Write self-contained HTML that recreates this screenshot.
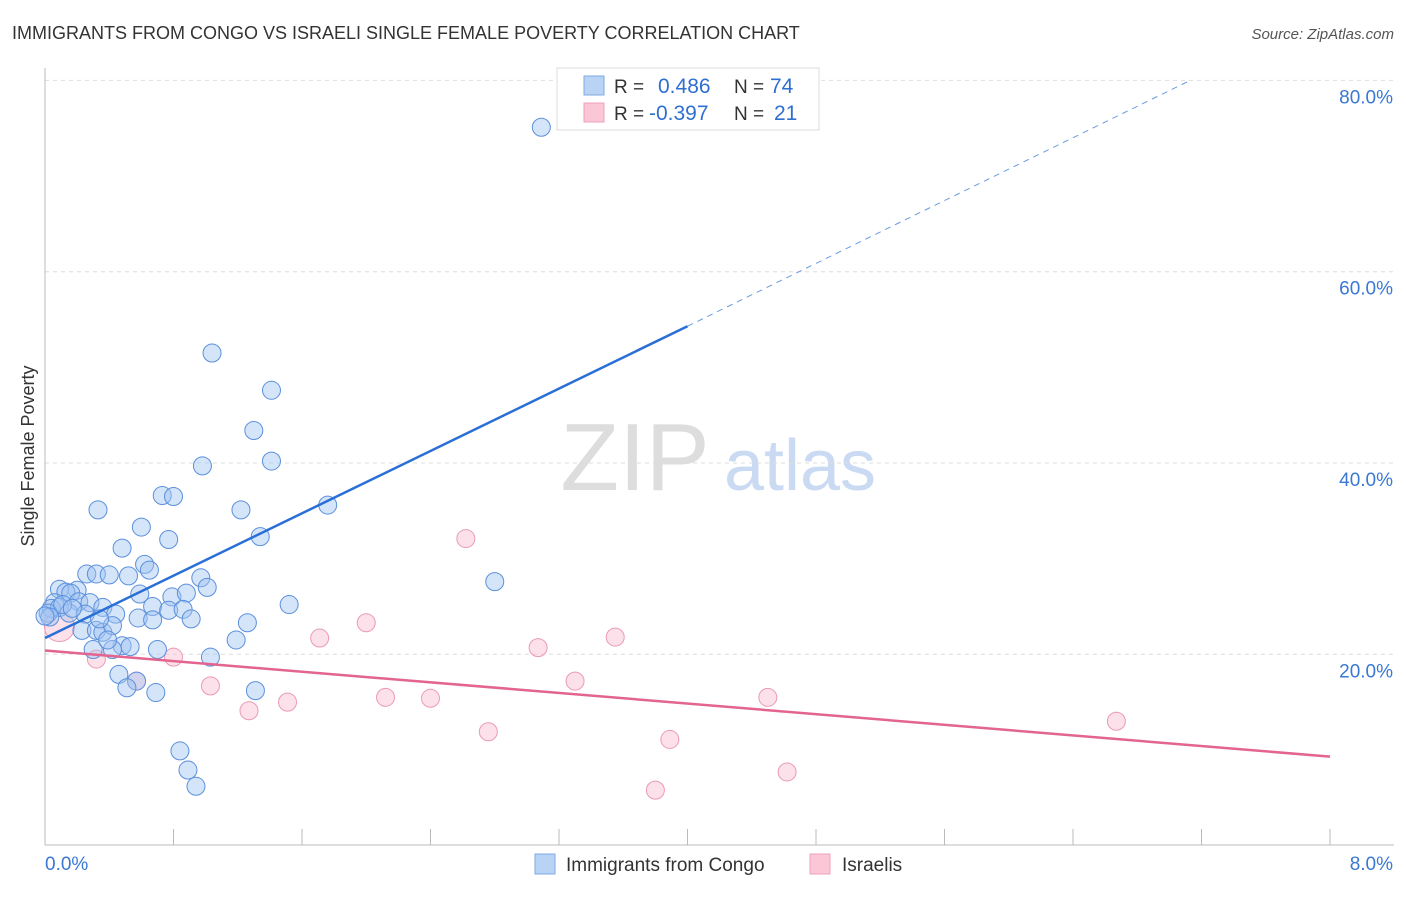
<!DOCTYPE html>
<html><head><meta charset="utf-8"><style>
body{margin:0;background:#fff;font-family:"Liberation Sans",sans-serif}
svg text{font-family:"Liberation Sans",sans-serif}
</style></head><body>
<svg id="chart" width="1406" height="892" xmlns="http://www.w3.org/2000/svg">
<text x="12" y="39" font-size="18" fill="#333">IMMIGRANTS FROM CONGO VS ISRAELI SINGLE FEMALE POVERTY CORRELATION CHART</text>
<text x="1394" y="39" font-size="15" fill="#555" text-anchor="end" font-style="italic">Source: ZipAtlas.com</text>
<text transform="translate(34,456) rotate(-90)" font-size="18" fill="#333" text-anchor="middle">Single Female Poverty</text>
<g>
<text x="635" y="490" font-size="96" fill="#ddd" font-family="Liberation Serif" text-anchor="middle">ZIP</text>
<text x="800" y="490" font-size="72" fill="#c9daf2" text-anchor="middle">atlas</text>
</g>
<g id="grid"></g><g id="axes"></g><g id="pts"></g><g id="lines"></g>
<g>
<rect x="557" y="68" width="262" height="62" fill="#fff" stroke="#ddd"/>
<rect x="584" y="76" width="20" height="19" fill="#b9d3f5" stroke="#7ea8e3"/>
<rect x="584" y="103" width="20" height="19" fill="#fbc6d5" stroke="#eea0b8"/>
<text x="614" y="93" font-size="19" fill="#333">R =</text><text x="658" y="93" font-size="21" fill="#2f6fd0">0.486</text>
<text x="734" y="93" font-size="19" fill="#333">N =</text><text x="770" y="93" font-size="21" fill="#2f6fd0">74</text>
<text x="614" y="120" font-size="19" fill="#333">R =</text><text x="649" y="120" font-size="21" fill="#2f6fd0">-0.397</text>
<text x="734" y="120" font-size="19" fill="#333">N =</text><text x="774" y="120" font-size="21" fill="#2f6fd0">21</text>
</g>
<g>
<rect x="535" y="854" width="20" height="20" fill="#b9d3f5" stroke="#7ea8e3"/>
<text x="566" y="871" font-size="19" fill="#333">Immigrants from Congo</text>
<rect x="810" y="854" width="20" height="20" fill="#fbc6d5" stroke="#eea0b8"/>
<text x="842" y="871" font-size="19" fill="#333">Israelis</text>
</g>
</svg>
<script>
const xTicks=[0,0.8,1.6,2.4,3.2,4.0,4.8,5.6,6.4,7.2,8.0];
const yTicks=[20,40,60,80];
const yTickLabels=["20.0%","40.0%","60.0%","80.0%"];
const xEndLabels=["0.0%","8.0%"];
const congoX=[3.09,1.04,1.41,1.30,0.98,1.41,0.33,0.73,0.80,1.22,1.76,0.60,0.77,1.34,0.48,0.62,0.65,0.26,0.32,0.40,0.52,0.97,1.01,2.80,0.09,0.20,0.13,0.16,0.59,0.79,0.88,0.06,0.21,0.28,0.36,0.67,0.77,0.86,1.52,0.04,0.09,0.02,0.15,0.25,0.44,0.58,0.67,0.91,1.26,0.23,0.32,0.36,0.42,1.19,0.48,0.53,0.70,0.30,0.42,1.03,0.46,0.57,0.51,0.69,1.31,0.84,0.89,0.94,0.03,0.00,0.11,0.17,0.34,0.39];
const congoY=[75.1,51.5,47.6,43.4,39.7,40.2,35.1,36.6,36.5,35.1,35.6,33.3,32.0,32.3,31.1,29.4,28.8,28.4,28.4,28.3,28.2,28.0,27.0,27.6,26.8,26.7,26.5,26.4,26.3,26.0,26.4,25.4,25.5,25.4,24.9,25.0,24.6,24.7,25.2,24.8,24.9,24.3,24.3,24.2,24.2,23.8,23.6,23.7,23.3,22.5,22.5,22.3,23.0,21.5,20.9,20.8,20.5,20.5,20.5,19.7,17.9,17.2,16.5,16.0,16.2,9.9,7.9,6.2,23.9,24.0,25.2,24.8,23.7,21.5];
const israelX=[2.62,0.09,0.32,0.80,1.03,1.27,1.51,1.71,2.00,2.12,2.40,2.76,3.07,3.30,3.55,3.80,3.89,4.50,4.62,6.67,0.57];
const israelY=[32.1,22.9,19.5,19.7,16.7,14.1,15.0,21.7,23.3,15.5,15.4,11.9,20.7,17.2,21.8,5.8,11.1,15.5,7.7,13.0,17.2];
const congoTrend=[[0,21.7],[4.0,54.3],[7.13,80]];
const israelTrend=[[0,20.4],[8,9.3]];
const NS="http://www.w3.org/2000/svg";
const X=v=>45+v/8*1285, Y=v=>845.6-v*9.565;
function mk(t,a,p){const e=document.createElementNS(NS,t);for(const k in a)e.setAttribute(k,a[k]);document.getElementById(p).appendChild(e);return e;}
yTicks.forEach((t,i)=>{
 const l=mk('line',{x1:45,x2:1394,y1:Y(t),y2:Y(t),stroke:'#ddd','stroke-dasharray':'4,4'},'grid');
 
 
 const tx=mk('text',{x:1393,y:Y(t)+23,'font-size':19,fill:'#3a78d4','text-anchor':'end'},'axes');
 tx.textContent=yTickLabels[i];
 
 
});
const ax=mk('line',{x1:45,x2:1394,y1:845,y2:845,stroke:'#bbb'},'axes');


const ay=mk('line',{x1:45,x2:45,y1:68,y2:845,stroke:'#bbb'},'axes');


xTicks.forEach(t=>{
 const l=mk('line',{x1:X(t),x2:X(t),y1:829,y2:845,stroke:'#bbb'},'axes');
 
 
});
[[0,'start',45],[8,'end',1393]].forEach((d,i)=>{
 const tx=mk('text',{x:d[2],y:870,'font-size':19,fill:'#3a78d4','text-anchor':d[1]},'axes');
 tx.textContent=xEndLabels[i];
 
 
});
israelX.forEach((x,i)=>{
 const c=mk('circle',{cx:X(x),cy:Y(israelY[i]),r:i==1?15:9,fill:'rgba(248,180,202,0.4)',stroke:'#eb9ab4','stroke-width':1},'pts');
 
 
});
congoX.forEach((x,i)=>{
 const c=mk('circle',{cx:X(x),cy:Y(congoY[i]),r:9,fill:'rgba(160,196,242,0.45)',stroke:'#5b90dc','stroke-width':1},'pts');
 
 
});
const b1=mk('line',{x1:X(congoTrend[0][0]),y1:Y(congoTrend[0][1]),x2:X(congoTrend[1][0]),y2:Y(congoTrend[1][1]),stroke:'#2a6fd6','stroke-width':2.5},'lines');


const b2=mk('line',{x1:X(congoTrend[1][0]),y1:Y(congoTrend[1][1]),x2:X(congoTrend[2][0]),y2:Y(congoTrend[2][1]),stroke:'#6a9ae0','stroke-width':1,'stroke-dasharray':'6,5'},'lines');


const p1=mk('line',{x1:X(israelTrend[0][0]),y1:Y(israelTrend[0][1]),x2:X(israelTrend[1][0]),y2:Y(israelTrend[1][1]),stroke:'#e3648f','stroke-width':2.5},'lines');


</script>
</body></html>
